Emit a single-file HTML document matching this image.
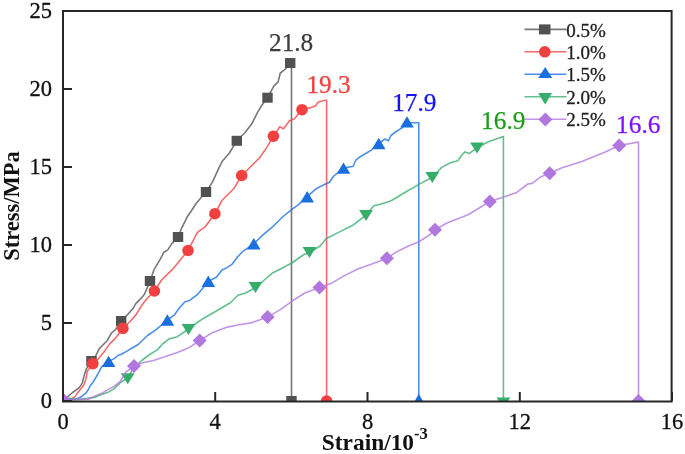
<!DOCTYPE html>
<html><head><meta charset="utf-8"><style>
html,body{margin:0;padding:0;background:#fff;}
svg{display:block;filter:blur(0.35px);}
text{font-family:"Liberation Serif",serif;}
.tk{font-size:22.5px;fill:#111;stroke:#111;stroke-width:0.3px;}
.lg{font-size:19px;fill:#222;stroke:#222;stroke-width:0.3px;}
.vl{font-size:24px;}
.ax{font-size:22.5px;font-weight:bold;fill:#111;}
</style></head><body>
<svg width="685" height="454" viewBox="0 0 685 454">
<rect width="685" height="454" fill="#fff"/>
<defs><clipPath id="pc"><rect x="63" y="11" width="609" height="390.5"/></clipPath></defs>
<g clip-path="url(#pc)">
<path d="M63.0,401.0 L66.0,398.5 L67.9,396.5 L72.6,392.5 L77.7,388.9 L80.6,386.0 L82.5,382.3 L83.5,377.9 L84.3,375.0 L86.5,368.6 L91.3,361.0 L95.8,355.7 L99.3,348.6 L102.9,345.0 L107.2,340.7 L111.5,333.0 L115.7,329.4 L121.2,320.8 L128.6,313.6 L132.9,308.6 L135.8,303.6 L141.5,297.9 L144.4,294.3 L147.2,287.9 L150.0,281.0 L154.0,269.7 L159.9,259.8 L163.9,252.2 L167.8,249.9 L171.8,243.6 L178.0,237.0 L181.4,228.7 L187.0,217.3 L196.7,202.7 L206.0,192.0 L212.4,182.1 L218.5,168.8 L222.1,161.5 L229.4,153.0 L236.8,140.8 L244.9,132.7 L251.8,123.8 L257.8,111.9 L262.7,104.0 L267.5,97.7 L273.7,86.3 L278.1,81.9 L280.3,73.0 L284.7,69.7 L290.2,63.0 L291.5,63.0 L291.5,401.0" fill="none" stroke="#515151" stroke-width="1.6" stroke-opacity="0.78" stroke-linejoin="round"/>
<rect x="86.3" y="356.0" width="10.4" height="10" fill="#515151"/>
<rect x="116.0" y="316.0" width="10.4" height="10" fill="#515151"/>
<rect x="144.8" y="276.0" width="10.4" height="10" fill="#515151"/>
<rect x="172.8" y="232.0" width="10.4" height="10" fill="#515151"/>
<rect x="200.8" y="187.0" width="10.4" height="10" fill="#515151"/>
<rect x="231.6" y="135.8" width="10.4" height="10" fill="#515151"/>
<rect x="262.3" y="92.7" width="10.4" height="10" fill="#515151"/>
<rect x="285.0" y="58.0" width="10.4" height="10" fill="#515151"/>
<rect x="286.3" y="396.0" width="10.4" height="10" fill="#515151"/>
<path d="M63.0,401.0 L70.0,399.5 L74.8,396.9 L78.4,391.8 L82.1,387.4 L84.3,383.8 L85.7,379.4 L86.8,375.0 L87.1,371.4 L92.9,363.6 L98.6,358.6 L104.3,351.4 L110.0,343.6 L114.3,339.4 L122.9,328.4 L130.0,321.5 L135.8,315.1 L141.5,305.8 L145.8,300.0 L154.4,291.0 L161.6,280.0 L172.5,269.4 L188.0,250.5 L197.3,232.7 L201.5,229.4 L205.2,226.8 L214.9,213.7 L222.1,200.3 L229.4,193.0 L234.2,188.2 L241.7,175.5 L249.8,167.5 L259.8,157.5 L266.7,147.6 L273.4,136.2 L276.6,131.7 L279.6,126.8 L283.6,128.8 L289.5,120.8 L294.5,118.8 L302.0,109.7 L309.4,107.9 L315.3,106.0 L318.3,102.0 L325.2,100.3 L326.6,100.3 L326.6,401.0" fill="none" stroke="#F14040" stroke-width="1.6" stroke-opacity="0.78" stroke-linejoin="round"/>
<circle cx="92.9" cy="363.6" r="5.8" fill="#F14040"/>
<circle cx="122.9" cy="328.4" r="5.8" fill="#F14040"/>
<circle cx="154.4" cy="291.0" r="5.8" fill="#F14040"/>
<circle cx="188.0" cy="250.5" r="5.8" fill="#F14040"/>
<circle cx="214.9" cy="213.7" r="5.8" fill="#F14040"/>
<circle cx="241.7" cy="175.5" r="5.8" fill="#F14040"/>
<circle cx="273.4" cy="136.2" r="5.8" fill="#F14040"/>
<circle cx="302.0" cy="109.7" r="5.8" fill="#F14040"/>
<circle cx="326.6" cy="401.0" r="5.8" fill="#F14040"/>
<path d="M63.0,401.0 L69.0,398.4 L72.6,399.5 L77.0,398.7 L82.1,396.2 L85.7,393.2 L87.9,390.3 L90.1,386.0 L93.0,382.3 L95.2,378.6 L97.4,375.0 L101.4,367.1 L108.6,361.4 L114.3,358.6 L117.9,355.5 L121.4,354.3 L127.8,350.6 L130.0,349.3 L138.2,344.5 L147.5,335.5 L155.8,329.8 L161.0,325.5 L167.4,320.0 L174.1,315.2 L179.4,308.1 L184.7,302.0 L190.0,300.2 L197.0,294.9 L202.3,288.8 L208.3,281.3 L216.4,277.3 L221.7,270.3 L227.0,267.6 L232.2,264.1 L237.5,257.0 L242.0,252.2 L253.8,243.7 L263.2,234.6 L273.7,225.8 L282.5,217.0 L291.3,209.9 L298.4,204.6 L307.2,196.7 L316.0,188.8 L323.0,185.3 L329.4,182.2 L333.8,176.0 L343.5,168.1 L353.2,166.3 L355.8,160.2 L360.2,156.7 L370.8,150.5 L378.7,143.5 L384.9,139.0 L388.4,140.8 L391.0,135.5 L395.4,132.0 L402.5,127.6 L407.0,122.8 L412.1,122.7 L418.8,122.7 L418.8,401.0" fill="none" stroke="#1A6FDF" stroke-width="1.6" stroke-opacity="0.78" stroke-linejoin="round"/>
<path d="M108.6,355.7 L115.4,367.1 L101.8,367.1Z" fill="#1A6FDF"/>
<path d="M167.4,314.3 L174.2,325.7 L160.6,325.7Z" fill="#1A6FDF"/>
<path d="M208.3,275.6 L215.1,287.0 L201.5,287.0Z" fill="#1A6FDF"/>
<path d="M253.8,238.0 L260.6,249.4 L247.0,249.4Z" fill="#1A6FDF"/>
<path d="M307.2,191.0 L314.0,202.4 L300.4,202.4Z" fill="#1A6FDF"/>
<path d="M343.5,162.4 L350.3,173.8 L336.7,173.8Z" fill="#1A6FDF"/>
<path d="M378.7,137.8 L385.5,149.2 L371.9,149.2Z" fill="#1A6FDF"/>
<path d="M407.0,116.2 L413.8,127.6 L400.2,127.6Z" fill="#1A6FDF"/>
<path d="M418.8,394.1 L425.6,405.5 L412.0,405.5Z" fill="#1A6FDF"/>
<path d="M63.0,401.0 L69.0,398.4 L76.2,399.5 L87.2,398.4 L95.7,397.1 L98.1,395.8 L107.5,392.6 L114.3,388.6 L120.0,382.9 L127.5,378.0 L133.8,367.4 L141.7,360.5 L149.7,354.5 L157.6,349.6 L162.5,344.0 L169.5,338.7 L177.4,336.7 L188.5,329.0 L195.0,324.0 L201.9,319.3 L217.2,310.5 L230.4,302.8 L238.0,295.2 L245.7,293.0 L255.5,287.5 L263.2,281.0 L272.0,273.3 L278.5,270.0 L291.8,263.0 L303.9,254.5 L309.4,252.5 L319.8,246.2 L326.4,238.5 L339.6,231.9 L352.8,225.3 L366.0,215.0 L373.8,205.8 L379.2,204.4 L389.1,201.5 L392.5,200.0 L404.4,192.7 L419.8,183.9 L432.3,177.2 L441.7,167.4 L450.4,162.7 L457.7,160.7 L462.1,154.8 L465.0,151.9 L469.4,153.4 L477.0,147.8 L488.4,141.7 L503.4,136.6 L503.4,401.0" fill="none" stroke="#37AD6B" stroke-width="1.6" stroke-opacity="0.78" stroke-linejoin="round"/>
<path d="M127.7,384.3 L134.6,373.3 L120.8,373.3Z" fill="#37AD6B"/>
<path d="M188.5,335.0 L195.4,324.0 L181.6,324.0Z" fill="#37AD6B"/>
<path d="M255.5,293.0 L262.4,282.0 L248.6,282.0Z" fill="#37AD6B"/>
<path d="M309.4,258.0 L316.3,247.0 L302.5,247.0Z" fill="#37AD6B"/>
<path d="M366.0,221.0 L372.9,210.0 L359.1,210.0Z" fill="#37AD6B"/>
<path d="M432.3,183.0 L439.2,172.0 L425.4,172.0Z" fill="#37AD6B"/>
<path d="M477.0,153.5 L483.9,142.5 L470.1,142.5Z" fill="#37AD6B"/>
<path d="M503.4,408.5 L510.3,397.5 L496.5,397.5Z" fill="#37AD6B"/>
<path d="M63.0,400.0 L88.7,399.1 L94.5,396.2 L101.8,393.2 L108.0,389.6 L112.9,387.1 L119.9,382.0 L125.9,372.0 L134.0,366.0 L143.7,362.5 L153.6,360.5 L165.5,356.5 L177.4,352.5 L189.3,347.6 L199.7,340.5 L212.8,332.4 L226.0,327.4 L239.1,324.7 L252.3,322.6 L267.6,317.1 L280.7,309.4 L291.7,301.3 L304.8,293.0 L319.5,287.5 L330.8,283.6 L344.0,275.9 L357.2,269.3 L372.6,263.8 L386.9,258.3 L396.9,251.7 L407.9,246.2 L418.9,241.8 L427.7,236.3 L435.0,229.8 L447.5,222.8 L468.0,214.7 L489.9,201.5 L503.0,197.2 L516.1,192.8 L527.8,184.0 L532.2,183.4 L541.0,176.7 L549.7,173.2 L561.4,168.0 L581.8,161.5 L605.2,151.9 L619.2,145.5 L637.9,142.1 L638.5,142.1 L638.5,401.0" fill="none" stroke="#B177DE" stroke-width="1.6" stroke-opacity="0.78" stroke-linejoin="round"/>
<path d="M134.0,359.0 L141.0,366.0 L134.0,373.0 L127.0,366.0Z" fill="#B177DE"/>
<path d="M199.7,333.5 L206.7,340.5 L199.7,347.5 L192.7,340.5Z" fill="#B177DE"/>
<path d="M267.6,310.1 L274.6,317.1 L267.6,324.1 L260.6,317.1Z" fill="#B177DE"/>
<path d="M319.5,280.5 L326.5,287.5 L319.5,294.5 L312.5,287.5Z" fill="#B177DE"/>
<path d="M386.9,251.3 L393.9,258.3 L386.9,265.3 L379.9,258.3Z" fill="#B177DE"/>
<path d="M435.0,222.8 L442.0,229.8 L435.0,236.8 L428.0,229.8Z" fill="#B177DE"/>
<path d="M489.9,194.5 L496.9,201.5 L489.9,208.5 L482.9,201.5Z" fill="#B177DE"/>
<path d="M549.7,166.2 L556.7,173.2 L549.7,180.2 L542.7,173.2Z" fill="#B177DE"/>
<path d="M619.2,138.5 L626.2,145.5 L619.2,152.5 L612.2,145.5Z" fill="#B177DE"/>
<path d="M638.5,394.0 L645.5,401.0 L638.5,408.0 L631.5,401.0Z" fill="#B177DE"/>
<path d="M63.0,392.5 L72.0,401.5 L63.0,410.5 L54.0,401.5Z" fill="#B177DE"/>
</g>
<line x1="524.5" y1="29.4" x2="566.5" y2="29.4" stroke="#515151" stroke-width="1.6" stroke-opacity="0.78"/>
<rect x="539.0" y="24.4" width="11.5" height="10" fill="#515151"/>
<text x="566.2" y="36.5" class="lg">0.5%</text>
<line x1="524.5" y1="51.8" x2="566.5" y2="51.8" stroke="#F14040" stroke-width="1.6" stroke-opacity="0.78"/>
<circle cx="544.8" cy="51.8" r="5.8" fill="#F14040"/>
<text x="566.2" y="58.9" class="lg">1.0%</text>
<line x1="524.5" y1="74.3" x2="566.5" y2="74.3" stroke="#1A6FDF" stroke-width="1.6" stroke-opacity="0.78"/>
<path d="M545.2,67.1 L552.2,78.1 L538.2,78.1Z" fill="#1A6FDF"/>
<text x="566.2" y="81.4" class="lg">1.5%</text>
<line x1="524.5" y1="96.8" x2="566.5" y2="96.8" stroke="#37AD6B" stroke-width="1.6" stroke-opacity="0.78"/>
<path d="M545.1,104.6 L552.0,93.0 L538.2,93.0Z" fill="#37AD6B"/>
<text x="566.2" y="103.8" class="lg">2.0%</text>
<line x1="524.5" y1="119.2" x2="566.5" y2="119.2" stroke="#B177DE" stroke-width="1.6" stroke-opacity="0.78"/>
<path d="M545.4,112.5 L552.4,119.5 L545.4,126.5 L538.4,119.5Z" fill="#B177DE"/>
<text x="566.2" y="126.3" class="lg">2.5%</text>
<text transform="translate(269.0,50.8) scale(1,1.0)" font-size="25.3" fill="#3c3c3c" stroke="#3c3c3c" stroke-width="0.25" >21.8</text>
<text transform="translate(306.4,93.4) scale(1,1.0)" font-size="25.3" fill="#f53c3c" stroke="#f53c3c" stroke-width="0.25" >19.3</text>
<text transform="translate(392.2,110.8) scale(1,1.0)" font-size="25.3" fill="#1414f5" stroke="#1414f5" stroke-width="0.25" >17.9</text>
<text transform="translate(481.1,128.6) scale(1,1.0)" font-size="25.3" fill="#1c9c1c" stroke="#1c9c1c" stroke-width="0.25" >16.9</text>
<text transform="translate(616.1,132.5) scale(1,1.0)" font-size="25.3" fill="#8010ff" stroke="#8010ff" stroke-width="0.25" >16.6</text>
<line x1="63.0" y1="401" x2="63.0" y2="392" stroke="#262626" stroke-width="2"/>
<text x="63.0" y="428.5" class="tk" text-anchor="middle">0</text>
<line x1="215.2" y1="401" x2="215.2" y2="392" stroke="#262626" stroke-width="2"/>
<text x="215.2" y="428.5" class="tk" text-anchor="middle">4</text>
<line x1="367.5" y1="401" x2="367.5" y2="392" stroke="#262626" stroke-width="2"/>
<text x="367.5" y="428.5" class="tk" text-anchor="middle">8</text>
<line x1="519.8" y1="401" x2="519.8" y2="392" stroke="#262626" stroke-width="2"/>
<text x="519.8" y="428.5" class="tk" text-anchor="middle">12</text>
<line x1="672.0" y1="401" x2="672.0" y2="392" stroke="#262626" stroke-width="2"/>
<text x="672.0" y="428.5" class="tk" text-anchor="middle">16</text>
<line x1="63" y1="401.0" x2="72" y2="401.0" stroke="#262626" stroke-width="2"/>
<text x="52" y="407.8" class="tk" text-anchor="end">0</text>
<line x1="63" y1="323.0" x2="72" y2="323.0" stroke="#262626" stroke-width="2"/>
<text x="52" y="329.8" class="tk" text-anchor="end">5</text>
<line x1="63" y1="245.0" x2="72" y2="245.0" stroke="#262626" stroke-width="2"/>
<text x="52" y="251.8" class="tk" text-anchor="end">10</text>
<line x1="63" y1="167.0" x2="72" y2="167.0" stroke="#262626" stroke-width="2"/>
<text x="52" y="173.8" class="tk" text-anchor="end">15</text>
<line x1="63" y1="89.0" x2="72" y2="89.0" stroke="#262626" stroke-width="2"/>
<text x="52" y="95.8" class="tk" text-anchor="end">20</text>
<line x1="63" y1="11.0" x2="72" y2="11.0" stroke="#262626" stroke-width="2"/>
<text x="52" y="17.8" class="tk" text-anchor="end">25</text>
<rect x="63" y="11" width="608.6" height="390.5" fill="none" stroke="#262626" stroke-width="2"/>
<text x="321.8" y="449.8" class="ax" style="font-size:23.4px">Strain/10<tspan dy="-11" font-size="16.5">-3</tspan></text>
<text transform="translate(19,206) rotate(-90)" x="0" y="0" class="ax" text-anchor="middle">Stress/MPa</text>
</svg>
</body></html>
